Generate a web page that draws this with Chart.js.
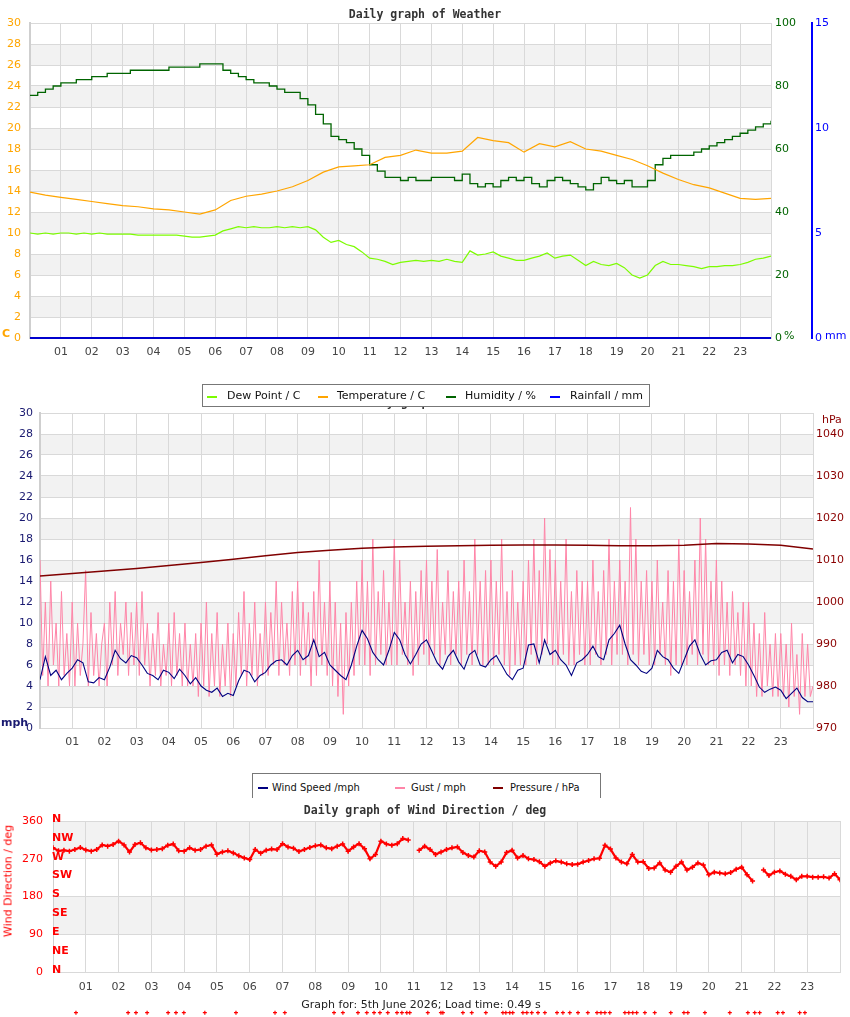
<!DOCTYPE html>
<html><head><meta charset="utf-8">
<script src="https://cdn.jsdelivr.net/npm/chart.js@4.4.1/dist/chart.umd.min.js"></script>
<style>
html,body{margin:0;padding:0;background:#fff;}
body{width:850px;height:1017px;position:relative;overflow:hidden;font-family:'DejaVu Sans',sans-serif;}
canvas{position:absolute;left:0;}
.t{position:absolute;white-space:nowrap;line-height:12px;height:12px;}
.title{left:0;width:850px;text-align:center;font:bold 11.5px 'DejaVu Sans Mono',monospace;color:#333;z-index:2;}
.legend{position:absolute;background:#fff;border:1px solid #777;box-sizing:border-box;z-index:5;}
.sw{position:absolute;width:10px;height:2px;z-index:6;}
.lt{position:absolute;white-space:nowrap;font:11px 'DejaVu Sans',sans-serif;color:#111;line-height:12px;z-index:6;}
.lt2{font:11px 'DejaVu Sans Condensed','DejaVu Sans',sans-serif;}
</style>
</head><body>
<!-- Chart 1 -->
<div class="t title" style="top:7px">Daily graph of Weather</div>
<canvas id="c1" width="850" height="370" style="top:0"></canvas>
<div class="t" style="left:2px;top:327px;font:bold 11px 'DejaVu Sans';color:#ffa500">C</div>
<div class="t" style="left:784px;top:329px;font:11px 'DejaVu Sans';color:#006400">%</div>
<div class="t" style="left:825px;top:329px;font:11px 'DejaVu Sans';color:#0000ff">mm</div>

<!-- Legend 1 + hidden title 2 -->
<div class="t title" style="top:395px;z-index:1">Daily graph of Wind</div>
<div class="legend" style="left:202px;top:384px;width:448px;height:23px"></div>
<div class="sw" style="left:207px;top:396px;background:#7cfc00"></div><div class="lt" style="left:227px;top:390px">Dew Point / C</div>
<div class="sw" style="left:318px;top:396px;background:#ffa500"></div><div class="lt" style="left:337px;top:390px">Temperature / C</div>
<div class="sw" style="left:446px;top:396px;background:#006400"></div><div class="lt" style="left:465px;top:390px">Humidity / %</div>
<div class="sw" style="left:550px;top:396px;background:#0000ff"></div><div class="lt" style="left:570px;top:390px">Rainfall / mm</div>

<!-- Chart 2 -->
<canvas id="c2" width="850" height="361" style="top:399px"></canvas>
<div class="t" style="left:1px;top:716px;font:bold 11px 'DejaVu Sans';color:#191970">mph</div>
<div class="t" style="left:822px;top:413px;font:11px 'DejaVu Sans';color:#8b0000">hPa</div>

<!-- Legend 2 -->
<div class="legend" style="left:252px;top:773px;width:349px;height:25px;border-bottom:none"></div>
<div class="sw" style="left:258px;top:787px;background:#000080"></div><div class="lt lt2" style="left:272px;top:781px">Wind Speed /mph</div>
<div class="sw" style="left:395px;top:787px;background:#ff85a8"></div><div class="lt lt2" style="left:411px;top:781px">Gust / mph</div>
<div class="sw" style="left:493px;top:787px;background:#800000"></div><div class="lt lt2" style="left:510px;top:781px">Pressure / hPa</div>

<!-- Chart 3 -->
<canvas id="c3" width="850" height="213" style="top:804px"></canvas>
<div class="t title" style="top:803px;z-index:4">Daily graph of Wind Direction / deg</div>
<div style="position:absolute;left:8px;top:881px;transform:translate(-50%,-50%) rotate(-90deg);color:#ff0000;font:11px 'DejaVu Sans';white-space:nowrap">Wind Direction / deg</div>
<div class="t" style="left:0;width:842px;text-align:center;top:998px;font:11px 'DejaVu Sans';color:#222;z-index:3">Graph for: 5th June 2026; Load time: 0.49 s</div>

<script>
// ================= DATA =================
const hourTicks = ['01','02','03','04','05','06','07','08','09','10','11','12','13','14','15','16','17','18','19','20','21','22','23'];

// Temperature / C, every 0.5 h
const tempStep = 0.5;
const temperature = [13.9,13.6,13.4,13.2,13.0,12.8,12.6,12.5,12.3,12.2,
  12.0,11.8,12.2,13.1,13.5,13.7,14.0,14.4,15.0,15.8,
  16.3,16.4,16.5,17.2,17.4,17.9,17.6,17.6,17.8,19.1,
  18.8,18.6,17.7,18.5,18.2,18.7,18.0,17.8,17.4,17.0,
  16.4,15.7,15.1,14.6,14.3,13.8,13.3,13.2,13.3];

// Dew point / C, every 0.25 h
const dewStep = 0.25;
const dewPoint = [
  10.0,9.9,10.0,9.9,  10.0,10.0,9.9,10.0,  9.9,10.0,9.9,9.9,  9.9,9.9,9.8,9.8,
  9.8,9.8,9.8,9.8,  9.7,9.6,9.6,9.7,  9.8,10.2,10.4,10.6,  10.5,10.6,10.5,10.5,
  10.6,10.5,10.6,10.5,  10.6,10.3,9.6,9.1,  9.3,8.9,8.7,8.2,  7.6,7.5,7.3,7.0,
  7.2,7.3,7.4,7.3,  7.4,7.3,7.5,7.3,  7.2,8.3,7.9,8.0,  8.2,7.8,7.6,7.4,
  7.4,7.6,7.8,8.1,  7.6,7.8,7.9,7.4,  6.9,7.3,7.0,6.9,  7.1,6.7,6.0,5.7,
  6.0,6.9,7.3,7.0,  7.0,6.9,6.8,6.6,  6.8,6.8,6.9,6.9,  7.0,7.2,7.5,7.6,  7.8];

// Humidity / %, every 0.25 h
const humStep = 0.25;
const humidity = [
  77,78,79,80, 81,81,82,82, 83,83,84,84, 84,85,85,85,
  85,85,86,86, 86,86,87,87, 87,85,84,83, 82,81,81,80,
  79,78,78,76, 74,71,68,64, 63,62,60,58, 55,53,51,51,
  50,51,50,50, 51,51,51,50, 52,49,48,49, 48,50,51,50,
  51,49,48,50, 51,50,49,48, 47,49,51,50, 49,50,48,48,
  50,55,57,58, 58,58,59,60, 61,62,63,64, 65,66,67,68, 69];

// Rainfall / mm, hourly
const rainStep = 1;
const rainfall = [0,0,0,0,0,0,0,0,0,0,0,0,0,0,0,0,0,0,0,0,0,0,0,0,0];

// Wind speed / mph, every 10 min
const windStep = 1/6;
const windSpeed = [
  4.6,6.8,5.0,5.5,4.6,5.2,  5.7,6.5,6.2,4.4,4.3,4.8,  4.6,5.8,7.4,6.6,6.2,6.9,
  6.7,6.0,5.2,5.0,4.6,5.5,  5.3,4.7,5.6,5.0,4.2,4.8,  4.0,3.6,3.4,3.8,3.0,3.3,
  3.1,4.5,5.5,5.3,4.4,5.0,  5.3,6.0,6.4,6.5,6.0,6.9,  7.4,6.5,6.9,8.4,6.8,7.2,
  6.0,5.5,5.0,4.6,6.0,7.8,  9.3,8.5,7.2,6.5,6.0,7.4,  9.1,8.4,7.0,6.1,7.0,8.0,
  8.4,7.3,6.2,5.6,6.8,7.4,  6.3,5.6,7.0,7.4,6.0,5.8,  6.5,6.9,6.0,5.1,4.6,5.5,
  5.7,7.9,8.0,6.2,8.4,7.0,  7.4,6.5,6.0,5.0,6.2,6.5,  7.0,7.8,6.8,6.5,8.4,9.0,
  9.8,8.0,6.5,6.0,5.4,5.2,  5.7,7.4,6.8,6.5,5.7,5.2,  6.5,7.8,8.4,7.0,6.0,6.4,
  6.5,7.2,7.4,6.2,7.0,6.8,  6.0,5.0,3.9,3.4,3.7,3.9,  3.6,2.8,3.3,3.8,2.9,2.5,  2.5];

// Gust / mph, every 5 min
const gustStep = 1/12;
const gust = [
  16,5,12,4,14,6,10,4,13,5,9,4,
  12,4,10,5,8,15,4,11,5,9,4,8,
  10,4,12,6,13,5,10,7,12,5,11,6,
  12,5,13,6,10,4,9,5,11,4,8,5,
  10,4,11,5,9,4,10,4,8,4,9,3,
  10,4,12,3,9,4,11,3,8,4,10,3,
  9,4,11,5,13,4,10,5,12,4,9,5,
  12,5,11,6,14,5,12,6,10,5,13,6,
  14,5,12,6,11,4,13,5,16,6,12,5,
  14,4,12,3,10,1.3,11,4,12,5,14,6,
  16,6,14,5,18,6,13,7,15,6,12,6,
  18,6,16,7,12,6,14,5,13,6,15,7,
  16,6,14,7,17,6,12,7,15,6,13,7,
  14,6,16,7,13,6,18,7,14,6,15,6,
  16,6,14,7,18,6,13,5,15,6,12,6,
  14,6,16,7,18,6,15,7,20,8,17,6,
  16,6,14,7,18,6,13,6,15,7,14,6,
  14,6,16,7,13,6,15,7,18,6,14,7,
  16,7,14,6,21,7,18,6,14,7,15,6,
  14,6,16,7,12,6,15,5,14,6,18,6,
  15,6,13,7,16,6,20,7,18,6,14,6,
  16,5,14,6,12,5,13,6,11,5,12,4,
  12,4,10,3,9,3,11,4,8,3,9,3,
  9,3,8,2,10,3,7,1.3,9,3,8,3,
  4];

// Pressure / hPa, hourly
const pressStep = 1;
const pressure = [1006.2,1006.8,1007.4,1008.0,1008.7,1009.4,1010.2,1011.0,1011.8,1012.3,
  1012.8,1013.1,1013.3,1013.4,1013.5,1013.6,1013.6,1013.5,1013.4,1013.4,
  1013.5,1013.9,1013.8,1013.5,1012.6];

// Wind direction / deg, every 10 min (null = no reading)
const dirStep = 1/6;
const windDir = [
  296,289,290,288,292,297,  291,288,292,303,300,304,  312,303,286,304,308,296,
  291,292,294,302,305,289,  288,296,290,292,300,303,  281,286,289,284,277,272,
  268,292,283,290,293,292,  306,298,295,287,292,297,  301,303,296,294,300,305,
  288,298,306,294,270,280,  312,305,302,306,318,315,  null,290,300,292,280,286,
  292,296,298,285,278,274,  289,286,262,252,262,285,  290,272,278,270,268,263,
  252,260,265,262,258,256,  257,262,266,270,271,302,  293,272,262,258,280,262,
  263,247,248,260,243,238,  252,262,243,250,260,255,  232,238,236,234,237,245,
  250,232,217,null,243,230,  238,241,233,228,220,228,  228,226,226,227,224,234,  220];

// Calm readings (hours) shown on the marker row below the direction chart
const calmHours = [0.70,2.29,2.53,2.87,3.51,3.75,3.99,4.63,5.58,6.77,7.07,8.57,8.84,9.30,9.57,9.79,9.97,
  10.21,10.49,10.64,10.79,10.88,11.43,11.83,11.89,12.50,12.77,13.20,13.72,13.81,13.93,14.02,14.33,14.45,
  14.60,14.79,15.00,15.37,15.55,15.76,16.01,16.31,16.59,16.71,16.83,16.98,17.44,17.56,17.68,17.80,18.05,
  18.35,18.84,19.24,19.36,19.88,20.64,21.19,21.40,21.55,22.10,22.26,22.77,22.93];
const calmLevel = -97;
const compassLabels = ['N','NE','E','SE','S','SW','W','NW','N'];
const compassStep = 45;

// ================= HELPERS =================
function pts(vals, step) { return vals.map((v, i) => ({x: i * step, y: v})); }

Chart.defaults.font.family = "'DejaVu Sans', sans-serif";
Chart.defaults.font.size = 11;
Chart.defaults.animation = false;

const bandPlugin = {
  id: 'bands',
  beforeDraw(chart) {
    const s = chart.scales.y, a = chart.chartArea, ctx = chart.ctx;
    ctx.save();
    ctx.fillStyle = '#f2f2f2';
    for (let i = 1; i < s.ticks.length - 1; i += 2) {
      const y1 = s.getPixelForValue(s.ticks[i].value), y2 = s.getPixelForValue(s.ticks[i + 1].value);
      ctx.fillRect(a.left, Math.min(y1, y2), a.right - a.left, Math.abs(y2 - y1));
    }
    ctx.restore();
  }
};

function xAxis(h, pad) {
  return {
    type: 'linear', min: 0, max: 24,
    ticks: {stepSize: 1, autoSkip: false, maxRotation: 0, padding: pad, color: '#444',
      callback: v => (v >= 1 && v <= 23) ? hourTicks[v - 1] : ''},
    grid: {color: '#d9d9d9', drawTicks: false},
    border: {color: '#d9d9d9'},
    afterFit: s => { s.height = h; }
  };
}
const gridY = {color: '#d9d9d9', drawTicks: false};
const plain = v => String(v);
const lineDs = (label, data, color, axis, w) => ({label, data, borderColor: color, backgroundColor: color,
  borderWidth: w, pointRadius: 0, yAxisID: axis, tension: 0});

// ================= CHART 1 =================
new Chart(document.getElementById('c1'), {
  type: 'line',
  data: {datasets: [
    lineDs('Dew Point / C', pts(dewPoint, dewStep), '#7cfc00', 'y', 1.2),
    lineDs('Temperature / C', pts(temperature, tempStep), '#ffa500', 'y', 1.2),
    Object.assign(lineDs('Humidity / %', pts(humidity, humStep), '#006400', 'yHum', 1.3), {stepped: true}),
    Object.assign(lineDs('Rainfall / mm', pts(rainfall, rainStep), '#0000cd', 'yRain', 2), {clip: 2})
  ]},
  options: {
    responsive: false, devicePixelRatio: 1, animation: false,
    layout: {padding: {top: 23, left: 0, right: 0, bottom: 0}},
    plugins: {legend: {display: false}, tooltip: {enabled: false}},
    scales: {
      x: xAxis(32, 8),
      y: {position: 'left', min: 0, max: 30, ticks: {stepSize: 2, padding: 9, color: '#ffa500', callback: plain},
        grid: gridY, border: {color: '#cfcfcf', width: 2}, afterFit: s => { s.width = 30; }},
      yHum: {position: 'right', min: 0, max: 100, ticks: {stepSize: 20, padding: 4, color: '#006400', callback: plain},
        grid: {drawOnChartArea: false, drawTicks: false}, border: {display: false}, afterFit: s => { s.width = 41; }},
      yRain: {position: 'right', min: 0, max: 15, ticks: {stepSize: 5, padding: 3, color: '#0000ff', callback: plain},
        grid: {drawOnChartArea: false, drawTicks: false}, border: {color: '#0000ff', width: 2}, afterFit: s => { s.width = 38; }}
    }
  },
  plugins: [bandPlugin]
});

// ================= CHART 2 =================
new Chart(document.getElementById('c2'), {
  type: 'line',
  data: {datasets: [
    lineDs('Pressure / hPa', pts(pressure, pressStep), '#800000', 'yP', 1.5),
    lineDs('Wind Speed /mph', pts(windSpeed, windStep), '#000080', 'y', 1.1),
    lineDs('Gust / mph', pts(gust, gustStep), '#ff85a8', 'y', 1)
  ]},
  options: {
    responsive: false, devicePixelRatio: 1, animation: false,
    layout: {padding: {top: 14, left: 0, right: 0, bottom: 0}},
    plugins: {legend: {display: false}, tooltip: {enabled: false}},
    scales: {
      x: xAxis(32, 8),
      y: {position: 'left', min: 0, max: 30, ticks: {stepSize: 2, padding: 7, color: '#191970', callback: plain},
        grid: gridY, border: {color: '#cfcfcf', width: 2}, afterFit: s => { s.width = 40; }},
      yP: {position: 'right', min: 970, max: 1045, ticks: {stepSize: 10, padding: 3, color: '#8b0000', includeBounds: false, callback: plain},
        afterBuildTicks: s => { s.ticks = s.ticks.filter(t => t.value <= 1040); },
        grid: {drawOnChartArea: false, drawTicks: false}, border: {display: false}, afterFit: s => { s.width = 37; }}
    }
  },
  plugins: [bandPlugin]
});

// ================= CHART 3 =================
const compassPlugin = {
  id: 'compass',
  afterDraw(chart) {
    const s = chart.scales.y, x = chart.scales.x, ctx = chart.ctx;
    ctx.save();
    // compass labels on the direction axis
    ctx.font = "bold 11px 'DejaVu Sans'";
    ctx.fillStyle = '#ff0000';
    ctx.textAlign = 'left';
    ctx.textBaseline = 'middle';
    compassLabels.forEach((t, i) => ctx.fillText(t, s.right - 1, s.getPixelForValue(i * compassStep) - 2));
    // calm readings row (below the plot area)
    ctx.strokeStyle = '#ff0000';
    ctx.lineWidth = 1.2;
    const cy = s.getPixelForValue(calmLevel);
    calmHours.forEach(h => {
      const cx = x.getPixelForValue(h);
      ctx.beginPath();
      ctx.moveTo(cx - 2, cy); ctx.lineTo(cx + 2, cy);
      ctx.moveTo(cx, cy - 2); ctx.lineTo(cx, cy + 2);
      ctx.stroke();
    });
    ctx.restore();
  }
};
new Chart(document.getElementById('c3'), {
  type: 'line',
  data: {datasets: [
    {label: 'Wind Direction', data: pts(windDir, dirStep), borderColor: '#ff0000', backgroundColor: '#ff0000',
      borderWidth: 2.2, pointStyle: 'cross', pointRadius: 2.5, pointBorderWidth: 1.5, spanGaps: false, tension: 0}
  ]},
  options: {
    responsive: false, devicePixelRatio: 1, animation: false,
    layout: {padding: {top: 17, left: 0, right: 10, bottom: 0}},
    plugins: {legend: {display: false}, tooltip: {enabled: false}},
    scales: {
      x: xAxis(45, 9),
      y: {position: 'left', min: 0, max: 360, ticks: {stepSize: 90, padding: 10, color: '#ff0000', callback: plain},
        grid: gridY, border: {color: '#cfcfcf', width: 1}, afterFit: s => { s.width = 53; }}
    }
  },
  plugins: [bandPlugin, compassPlugin]
});
</script>
</body></html>
